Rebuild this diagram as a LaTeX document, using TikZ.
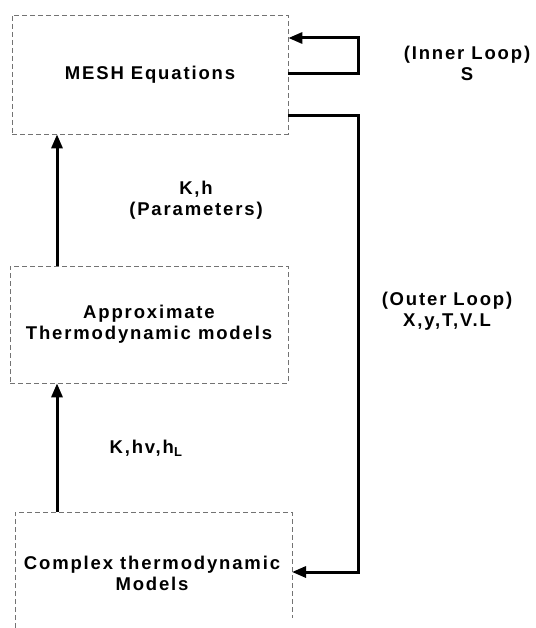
\documentclass[tikz,border=0pt]{standalone}
\usepackage{fontspec}
\setmainfont{Liberation Sans}[LetterSpace=10]
\usetikzlibrary{arrows.meta}
\begin{document}
\begin{tikzpicture}[x=1pt,y=-1pt,
  boxline/.style={draw=black!55, line width=0.7pt, dash pattern=on 5pt off 3pt},
  boxnode/.style={boxline, rectangle, inner sep=0pt, align=center},
  txt/.style={inner sep=0pt, align=center, font=\fontsize{18.5}{21}\selectfont\bfseries},
  arr/.style={line width=3pt, -{Triangle[length=14pt,width=11pt]}},
]
\useasboundingbox (0,0) rectangle (535,628);

% boxes
\node[boxnode, txt, minimum width=276pt, minimum height=119pt] (mesh) at (150,74.5) {MESH Equations};
\node[boxnode, txt, minimum width=278pt, minimum height=117pt] (approx) at (149,324.5) {Approximate\\Thermodynamic models};
\node[txt] (complex) at (152,573) {Complex thermodynamic\\Models};
\draw[boxline] (15,628) -- (15,512) -- (292,512) -- (292,618);

% helper coordinates
\coordinate (colx) at (57,0);
\coordinate (c3top) at (57,512);
\coordinate (c3in) at (292,572);
\coordinate (yin) at (0,38);
\coordinate (yout) at (0,74);
\coordinate (youter) at (0,116);
\coordinate (loopx) at (358,0);

% vertical arrows
\draw[arr] (approx.north -| colx) -- (mesh.south -| colx);
\draw[arr] (c3top) -- (approx.south -| colx);

% inner loop
\draw[arr] (mesh.east |- yout) -- (loopx |- yout) -- (loopx |- yin) -- (mesh.east |- yin);

% outer loop
\draw[arr] (mesh.east |- youter) -- (loopx |- youter) -- (loopx |- c3in) -- (c3in);

% labels
\node[txt] (innerlbl) at (467,63) {(Inner Loop)\\S};
\node[txt] (paramlbl) at (196,200) {K,h\\(Parameters)};
\node[txt] (outerlbl) at (447,311) {(Outer Loop)\\X,y,T,V.L};
\node[txt] (khlbl) at (146,448) {K,hv,h\textsubscript{L}};
\end{tikzpicture}
\end{document}
